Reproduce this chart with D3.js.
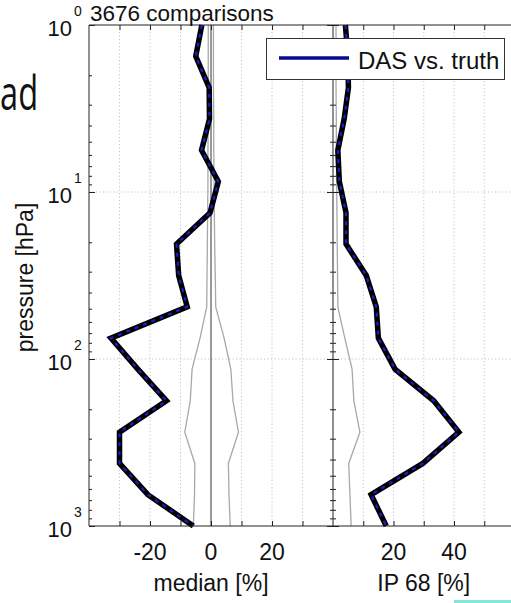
<!DOCTYPE html>
<html><head><meta charset="utf-8">
<script src="https://cdn.jsdelivr.net/npm/d3@7"></script>
<style>
html,body{margin:0;padding:0;background:#fff;}
svg{display:block;}
text{font-family:"Liberation Sans",Arial,sans-serif;fill:#111;}
</style></head>
<body>
<svg id="c" width="511" height="603"></svg>
<script>
// ---- data ----
const pressure   = [1, 1.54, 2.37, 3.65, 5.62, 8.66, 13.3, 20.5, 31.6, 48.7, 75.0, 115, 178, 274, 422, 649, 1000];
const medianDAS  = [-3.0, -5.0, -0.6, -0.5, -3.1, 2.4, -0.3, -11.3, -10.6, -7.8, -32.8, -24.0, -14.6, -30.0, -30.0, -20.7, -5.8];
const medianLow  = [-0.9, -0.9, -0.9, -0.9, -1.0, -1.0, -1.1, -1.2, -1.3, -1.4, -3.6, -6.2, -6.8, -8.6, -5.3, -5.4, -5.8];
const medianHigh = [0.8, 0.8, 0.8, 0.9, 0.9, 1.0, 1.1, 1.2, 1.4, 1.55, 4.3, 6.5, 7.2, 9.0, 5.7, 5.9, 6.3];
const ip68DAS    = [4.1, 4.9, 5.1, 3.7, 1.6, 2.1, 4.3, 4.3, 11.0, 14.3, 15.0, 20.5, 33.3, 41.6, 29.7, 12.6, 17.6];
const ip68Ref    = [1.0, 1.0, 1.0, 1.1, 1.1, 1.2, 1.3, 1.4, 1.5, 1.6, 3.9, 6.3, 6.9, 8.9, 5.2, 5.6, 6.0];
const medianTickLabels = [-20, 0, 20];
const medianGrid = [-30, -20, -10, 10, 20, 30];
const ipTickLabels = [20, 40];
const ipGrid = [10, 20, 30, 40, 50];
const pressureDecades = [1, 10, 100, 1000];
const pressureExponents = ["0", "1", "2", "3"];
const titleText = "3676 comparisons";
const legendText = "DAS vs. truth";
const medianLabel = "median [%]";
const ipLabel = "IP 68 [%]";
const yLabel = "pressure [hPa]";

// ---- layout ----
const W = 511, H = 603;
const yTop = 25, yBot = 526;
const lx0 = 89, lx1 = 333, rx0 = 333, rx1 = 514.5;
const svg = d3.select("#c");

const y = d3.scaleLog().domain([1, 1000]).range([yTop, yBot]);
const xL = d3.scaleLinear().domain([-40, 40]).range([lx0, lx1]);
const xR = d3.scaleLinear().domain([0, 60]).range([rx0, rx1]);

const gridCol = "#c4c4c4";
const axisCol = "#222";

// slide text fragment at left
svg.append("text").attr("x", 0).attr("y", 110)
  .attr("transform", "translate(0,110) scale(0.68,1) translate(0,-110)")
  .style("font-family", "'Open Sans',sans-serif").style("font-size", "48px").text("ad");

// gridlines
const grid = svg.append("g");
medianGrid.forEach(v => grid.append("line").attr("x1", xL(v)).attr("x2", xL(v)).attr("y1", yTop).attr("y2", yBot)
  .attr("stroke", gridCol).attr("stroke-dasharray", "1.2,2.3"));
ipGrid.forEach(v => grid.append("line").attr("x1", xR(v)).attr("x2", xR(v)).attr("y1", yTop).attr("y2", yBot)
  .attr("stroke", gridCol).attr("stroke-dasharray", "1.2,2.3"));
[10, 100].forEach(p => grid.append("line").attr("x1", lx0).attr("x2", W).attr("y1", y(p)).attr("y2", y(p))
  .attr("stroke", gridCol).attr("stroke-dasharray", "1.2,2.3"));

// reference (gray) lines
const lineL = vals => d3.line().x((d, i) => xL(vals[i])).y(d => y(d))(pressure);
const lineR = vals => d3.line().x((d, i) => xR(vals[i])).y(d => y(d))(pressure);
svg.append("path").attr("d", lineL(medianLow)).attr("fill", "none").attr("stroke", "#a8a8a8").attr("stroke-width", 1.3);
svg.append("path").attr("d", lineL(medianHigh)).attr("fill", "none").attr("stroke", "#a8a8a8").attr("stroke-width", 1.3);
svg.append("path").attr("d", lineR(ip68Ref)).attr("fill", "none").attr("stroke", "#a8a8a8").attr("stroke-width", 1.3);
svg.append("line").attr("x1", xL(0)).attr("x2", xL(0)).attr("y1", yTop).attr("y2", yBot)
  .attr("stroke", "#555").attr("stroke-width", 1.2);

// DAS lines: thick black + blue dashes
[lineL(medianDAS), lineR(ip68DAS)].forEach(d => {
  svg.append("path").attr("d", d).attr("fill", "none").attr("stroke", "#000").attr("stroke-width", 5.5)
    .attr("stroke-linejoin", "miter");
  svg.append("path").attr("d", d).attr("fill", "none").attr("stroke", "#1c1ccc").attr("stroke-width", 2.2)
    .attr("stroke-dasharray", "4,5");
});

// axes frame
const frame = svg.append("g").attr("stroke", axisCol).attr("stroke-width", 1);
frame.append("line").attr("x1", lx0).attr("x2", W).attr("y1", yTop).attr("y2", yTop);
frame.append("line").attr("x1", lx0).attr("x2", W).attr("y1", yBot).attr("y2", yBot);
frame.append("line").attr("x1", lx0).attr("x2", lx0).attr("y1", yTop).attr("y2", yBot);
frame.append("line").attr("x1", lx1).attr("x2", lx1).attr("y1", yTop).attr("y2", yBot);

function styleAxis(g) {
  g.select(".domain").remove();
  g.selectAll(".tick line").attr("stroke", axisCol);
  g.selectAll(".tick text").remove();
}
// x ticks (bottom + top) both panels
const xTicksL = [-30, -20, -10, 0, 10, 20, 30];
const xTicksR = [10, 20, 30, 40, 50];
[[xL, xTicksL], [xR, xTicksR]].forEach(([sc, tv]) => {
  svg.append("g").attr("transform", `translate(0,${yBot})`).call(d3.axisBottom(sc).tickValues(tv).tickSize(-5)).call(styleAxis);
  svg.append("g").attr("transform", `translate(0,${yTop})`).call(d3.axisTop(sc).tickValues(tv).tickSize(-5)).call(styleAxis);
});
// y ticks
const minor = y.ticks().filter(v => !pressureDecades.includes(v));
const yAxes = [[lx0, 1], [lx1, -1], [lx1, 1]];
yAxes.forEach(([x, dir]) => {
  const mk = dir > 0 ? d3.axisLeft : d3.axisRight;
  svg.append("g").attr("transform", `translate(${x},0)`).call(mk(y).tickValues(minor).tickSize(-3)).call(styleAxis);
  svg.append("g").attr("transform", `translate(${x},0)`).call(mk(y).tickValues(pressureDecades).tickSize(-6)).call(styleAxis);
});

// y tick labels 10^n
pressureDecades.forEach((p, i) => {
  svg.append("text").attr("x", 72).attr("y", y(p) + 10.5).attr("text-anchor", "end")
    .style("font-size", "22px").text("10");
  svg.append("text").attr("x", 74).attr("y", y(p) - 9).style("font-size", "14px").text(pressureExponents[i]);
});

// x tick labels
medianTickLabels.forEach(v => svg.append("text").attr("x", xL(v)).attr("y", 560).attr("text-anchor", "middle")
  .style("font-size", "23px").text(v));
ipTickLabels.forEach(v => svg.append("text").attr("x", xR(v)).attr("y", 560).attr("text-anchor", "middle")
  .style("font-size", "23px").text(v));

// axis labels
svg.append("text").attr("x", xL(0)).attr("y", 591).attr("text-anchor", "middle").style("font-size", "23px").text(medianLabel);
svg.append("text").attr("x", xR(30)).attr("y", 591).attr("text-anchor", "middle").style("font-size", "23px").text(ipLabel);
svg.append("text").attr("transform", `translate(33,${(yTop + yBot) / 2 + 2}) rotate(-90)`).attr("text-anchor", "middle")
  .style("font-size", "23px").text(yLabel);

// title
svg.append("text").attr("x", 90).attr("y", 21).style("font-size", "22.5px").text(titleText);

// legend
const lg = svg.append("g");
lg.append("rect").attr("x", 266.5).attr("y", 38.5).attr("width", 238).attr("height", 41)
  .attr("fill", "#fff").attr("stroke", "#333").attr("stroke-width", 1);
lg.append("line").attr("x1", 279).attr("x2", 349).attr("y1", 58).attr("y2", 58)
  .attr("stroke", "#0a0a8c").attr("stroke-width", 3.5);
lg.append("text").attr("x", 358).attr("y", 69).style("font-size", "24px").text(legendText);

// cyan strip at bottom right
svg.append("rect").attr("x", 454).attr("y", 600).attr("width", 57).attr("height", 3).attr("fill", "#86e6dc");
</script>
</body></html>
